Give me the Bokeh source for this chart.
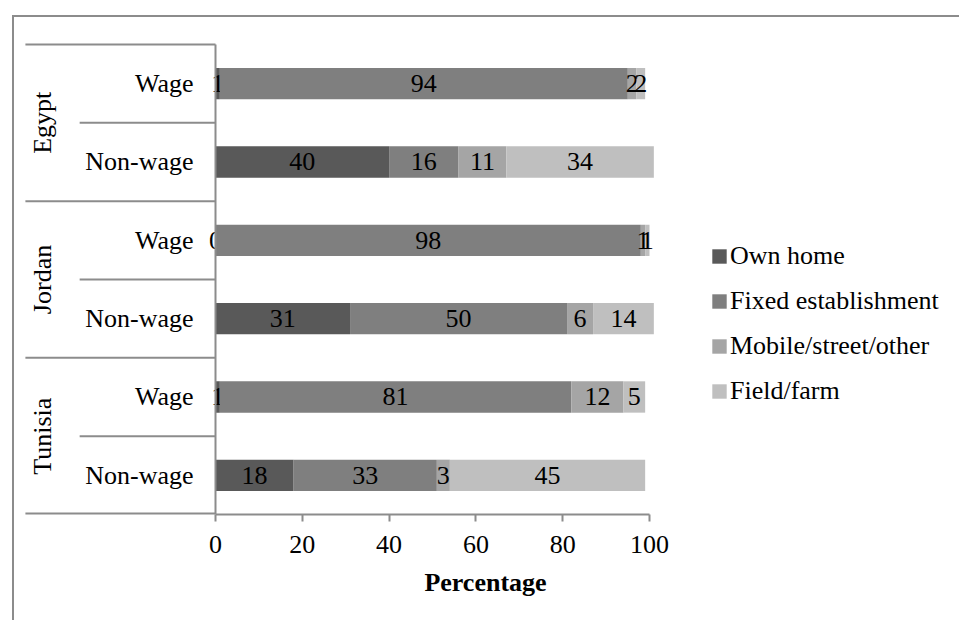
import math
import numpy as np
from bokeh.plotting import figure
from bokeh.models import Range1d, FixedTicker, Legend, LegendItem
from bokeh.core.properties import value
from bokeh.embed import file_html
from bokeh.resources import INLINE

# Work location by country and type of worker (percent of workers)
countries = ["Egypt", "Jordan", "Tunisia"]
worker_types = ["Wage", "Non-wage"]
locations = ["Own home", "Fixed establishment", "Mobile/street/other", "Field/farm"]

# one entry per row, top to bottom: Egypt wage, Egypt non-wage, Jordan ..., Tunisia ...
own_home = [1, 40, 0, 31, 1, 18]
fixed_establishment = [94, 16, 98, 50, 81, 33]
mobile_street_other = [2, 11, 1, 6, 12, 3]
field_farm = [2, 34, 1, 14, 5, 45]

x_ticks = [0, 20, 40, 60, 80, 100]
colors = ["#595959", "#7f7f7f", "#a5a5a5", "#bfbfbf"]

FONT = "Liberation Serif"
FONT_SIZE = "26px"
GRAY = "#8c8c8c"

series = [own_home, fixed_establishment, mobile_street_other, field_farm]
n_rows = len(countries) * len(worker_types)
row_y = [n_rows - i - 0.5 for i in range(n_rows)]
group_y = [n_rows - 2 * g - 1 for g in range(len(countries))]
group_edges = [n_rows - 2 * g for g in range(len(countries))]
sub_edges = [n_rows - 2 * g - 1 for g in range(len(countries))]

# horizontal scale: 4.34 px per percentage point, frame starts 195 px left of zero
PX_PER_UNIT = 4.34
FRAME_W = 930
x_start = -195 / PX_PER_UNIT
x_end = x_start + FRAME_W / PX_PER_UNIT

p = figure(
    width=947, height=605,
    x_range=Range1d(x_start, x_end), y_range=Range1d(0, n_rows + 0.025),
    output_backend="svg", toolbar_location=None, y_axis_location=None,
    min_border_left=6, min_border_right=11, min_border_top=25, min_border_bottom=108,
)
p.styles = {
    "margin-left": "12px", "margin-top": "15px",
    "border-left": f"2px solid {GRAY}", "border-top": f"2px solid {GRAY}",
}
p.outline_line_color = None
p.grid.visible = False
p.background_fill_color = "white"
p.border_fill_color = "white"

# stacked bars and their value labels
left = np.zeros(n_rows)
legend_items = []
for name, vals, color in zip(locations, series, colors):
    vals = np.array(vals, dtype=float)
    right = left + vals
    r = p.hbar(y=row_y, left=left, right=right, height=0.4,
               fill_color=color, line_color=None)
    legend_items.append(LegendItem(label=name, renderers=[r]))
    p.text(x=(left + right) / 2, y=row_y, text=[str(int(v)) for v in vals],
           text_align="center", text_baseline="middle",
           text_font=value(FONT), text_font_size=FONT_SIZE, text_color="black")
    left = right

# two-level category axis on the left
LINE_W = 2
group_x0 = -43.8
sub_x0 = -31.3
p.segment(x0=0, y0=0, x1=0, y1=n_rows, line_color=GRAY, line_width=LINE_W)
p.segment(x0=group_x0, y0=group_edges, x1=0, y1=group_edges,
          line_color=GRAY, line_width=LINE_W)
p.segment(x0=group_x0, y0=0, x1=0, y1=0, line_color=GRAY, line_width=4)
p.segment(x0=sub_x0, y0=sub_edges, x1=0, y1=sub_edges,
          line_color=GRAY, line_width=LINE_W)
p.text(x=-5.07, y=row_y, text=worker_types * len(countries),
       text_align="right", text_baseline="middle",
       text_font=value(FONT), text_font_size=FONT_SIZE, text_color="black")
p.text(x=-39.9, y=group_y, text=countries, angle=math.pi / 2,
       text_align="center", text_baseline="middle",
       text_font=value(FONT), text_font_size=FONT_SIZE, text_color="black")

# value axis
ax = p.xaxis[0]
ax.ticker = FixedTicker(ticks=x_ticks)
ax.bounds = (0, 100)
ax.axis_label = "Percentage"
ax.axis_line_color = GRAY
ax.axis_line_width = LINE_W
ax.major_tick_line_color = GRAY
ax.major_tick_line_width = LINE_W
ax.major_tick_out = 7
ax.major_tick_in = 0
ax.minor_tick_line_color = None
ax.major_label_standoff = 14
ax.major_label_text_font = FONT
ax.major_label_text_font_size = FONT_SIZE
ax.major_label_text_color = "black"
ax.axis_label_text_font = FONT
ax.axis_label_text_font_size = FONT_SIZE
ax.axis_label_text_font_style = "bold"
ax.axis_label_text_color = "black"
ax.axis_label_standoff = 12

legend = Legend(
    items=legend_items, location=(690, 108),
    label_text_font=FONT, label_text_font_size=FONT_SIZE, label_text_color="black",
    glyph_width=18, glyph_height=18, label_standoff=2, spacing=15,
    padding=0, margin=0, border_line_color=None, background_fill_alpha=0,
)
p.add_layout(legend)

open("out.html", "w").write(file_html(p, INLINE))
